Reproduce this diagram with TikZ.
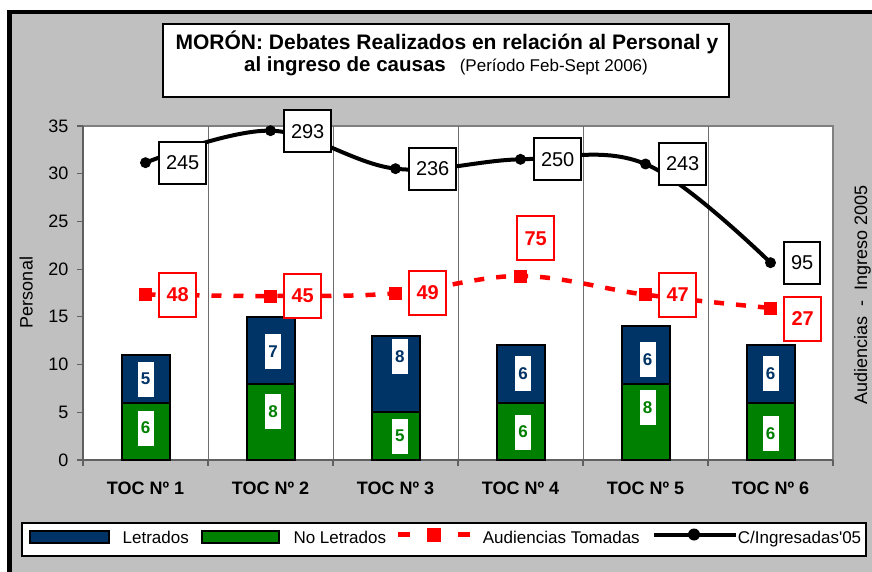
\documentclass[tikz,border=0pt]{standalone}
\usepackage{fontspec}
\setmainfont{Liberation Sans}
\newfontfamily\arialnl{Liberation Sans}
\definecolor{silverbg}{RGB}{192,192,192}
\definecolor{navyfill}{RGB}{0,51,102}
\definecolor{greenfill}{RGB}{0,128,0}
\definecolor{navytext}{RGB}{0,51,102}
\definecolor{greentext}{RGB}{0,128,0}
\definecolor{axgray}{RGB}{128,128,128}
\definecolor{axdark}{RGB}{96,96,96}
\definecolor{gridgray}{RGB}{110,110,110}
\definecolor{redline}{RGB}{255,0,0}
\tikzset{
  greenbar/.style={fill=greenfill, draw=black, line width=2pt},
  navybar/.style={fill=navyfill, draw=black, line width=2pt},
  inbox/.style={fill=white, inner sep=0pt, minimum width=16pt, minimum height=35pt,
    font=\fontsize{17}{19}\selectfont\bfseries},
  blkbox/.style={draw=black, line width=2pt, fill=white, inner xsep=7pt, inner ysep=0pt,
    minimum height=42pt, font=\fontsize{20}{22}\selectfont, anchor=west},
  redbox/.style={draw=redline, line width=2pt, fill=white, inner xsep=7.5pt, inner ysep=0pt,
    minimum height=44pt, font=\fontsize{20}{22}\selectfont\bfseries, text=redline, anchor=west},
  axlbl/.style={font=\fontsize{18}{20}\selectfont, inner sep=0pt},
  catlbl/.style={font=\fontsize{18}{20}\selectfont\bfseries, inner sep=0pt, anchor=base},
  leglbl/.style={font=\fontsize{17}{19}\selectfont, inner sep=0pt, anchor=base west},
  redmark/.style={rectangle, fill=redline, inner sep=0pt, minimum size=13pt},
  blkmark/.style={circle, fill=black, inner sep=0pt, minimum size=11pt},
}
\begin{document}
\begin{tikzpicture}[x=1pt,y=-1pt]
\useasboundingbox (0,0) rectangle (872,572);
\fill[white] (0,0) rectangle (872,572);
\begin{scope}
  \clip (0,0) rectangle (872,572);
  \filldraw[fill=silverbg, draw=black, line width=4.5pt] (9.5,12) rectangle (885,585);
\end{scope}

% title
\node[draw=black, line width=2pt, fill=white, minimum width=566pt, minimum height=73pt, inner sep=0pt] (titlebox) at (446,60.5) {};
\node[font=\fontsize{21}{24}\selectfont\bfseries, anchor=base, inner sep=0pt] (t1) at (447,50) {MORÓN: Debates Realizados en relación al Personal y};
\node[anchor=base, inner sep=0pt] (t2) at (446,72) {{\fontsize{20.5}{24}\selectfont\bfseries al ingreso de causas}\hspace{14pt}{\fontsize{17}{21}\selectfont(Período Feb-Sept 2006)}};

% plot area
\draw[axgray, line width=1.5pt, fill=white] (83,126) rectangle (833,460);
\foreach \i in {1,...,5}
  \draw[gridgray, line width=1pt] ({83+125*\i},126) -- ({83+125*\i},460);
\draw[axdark, line width=1.5pt] (83,126) -- (83,460);
\draw[axdark, line width=2pt] (83,460) -- (833,460);
\foreach \v in {0,5,...,35} {
  \draw[axdark, line width=1.2pt] (77,{460-\v*9.542857}) -- (83,{460-\v*9.542857});
  \node[axlbl, anchor=east] (yl\v) at (68.5,{460-\v*9.542857}) {\v};
}
\foreach \i in {0,...,6}
  \draw[axdark, line width=1.2pt] ({83+125*\i},460) -- ({83+125*\i},466);

% bars
\foreach \i/\g/\b/\gy/\by/\dx in {1/6/5/428/379/0, 2/8/7/411.5/351.5/2.7, 3/5/8/436/356.5/4.3, 4/6/6/432/373.3/2.7, 5/8/6/407.5/359.3/2, 6/6/6/433.8/373.3/0} {
  \pgfmathsetmacro\cx{145.5+125*(\i-1)}
  \pgfmathsetmacro\gt{460-\g*9.542857}
  \pgfmathsetmacro\bt{460-(\g+\b)*9.542857}
  \filldraw[greenbar] ({\cx-24},460) rectangle ({\cx+24},\gt);
  \filldraw[navybar] ({\cx-24},\gt) rectangle ({\cx+24},\bt);
  \node[inbox, text=navytext] (bl\i) at ({\cx+\dx},\by) {\b};
  \node[inbox, text=greentext] (gl\i) at ({\cx+\dx},\gy) {\g};
  \node[catlbl] (cat\i) at (\cx,494) {TOC Nº \i};
}

% line points
\coordinate (b1) at (145.5,162.67);
\coordinate (b2) at (270.5,130.67);
\coordinate (b3) at (395.5,168.67);
\coordinate (b4) at (520.5,159.33);
\coordinate (b5) at (645.5,164);
\coordinate (b6) at (770.5,262.67);
\coordinate (r1) at (145.5,294.5);
\coordinate (r2) at (270.5,296);
\coordinate (r3) at (395.5,293.33);
\coordinate (r4) at (520.5,276);
\coordinate (r5) at (645.5,294.67);
\coordinate (r6) at (770.5,308);

\draw[redline, line width=4.5pt, dash pattern=on 10pt off 12pt] plot[smooth, tension=0.6] coordinates {(r1) (r2) (r3) (r4) (r5) (r6)};
\draw[black, line width=4pt] plot[smooth, tension=0.6] coordinates {(b1) (b2) (b3) (b4) (b5) (b6)};
\foreach \k in {1,...,6} {
  \node[redmark] (rm\k) at (r\k) {};
  \node[blkmark] (bm\k) at (b\k) {};
}

% value labels
\node[blkbox] (lb1) at (158,163) {245};
\node[blkbox] (lb2) at (283,131.5) {293};
\node[blkbox] (lb3) at (408,169) {236};
\node[blkbox] (lb4) at (533,159.5) {250};
\node[blkbox] (lb5) at (658,164) {243};
\node[blkbox] (lb6) at (783,263) {95};
\node[redbox] (lr1) at (158,294.5) {48};
\node[redbox] (lr2) at (283,296) {45};
\node[redbox] (lr3) at (408,293) {49};
\node[redbox] (lr4) at (516,238.3) {75};
\node[redbox] (lr5) at (658,294.7) {47};
\node[redbox] (lr6) at (783,318.5) {27};

% axis titles
\node[axlbl, rotate=90, anchor=base] (ylab) at (32.5,292.5) {Personal};
\node[axlbl, rotate=90, anchor=base] (y2lab) at (867,295) {Audiencias\ \ -\ \ Ingreso 2005};

% legend
\node[draw=black, line width=2pt, fill=white, minimum width=844pt, minimum height=33pt, inner sep=0pt] (legend) at (444,539.5) {};
\filldraw[navyfill, draw=black, line width=1.5pt] (30,531) rectangle (109,543);
\node[leglbl] (lg1) at (122.5,543.3) {Letrados};
\filldraw[greenfill, draw=black, line width=1.5pt] (202,531) rectangle (279,543);
\node[leglbl] (lg2) at (293.3,543.3) {No Letrados};
\coordinate (la) at (398,534.5);
\coordinate (lb) at (410,534.5);
\coordinate (lc) at (458,534.5);
\coordinate (ld) at (470,534.5);
\draw[redline, line width=4.5pt] (la) -- (lb);
\draw[redline, line width=4.5pt] (lc) -- (ld);
\node[redmark, minimum size=14pt] (lgm1) at (434,534.5) {};
\node[leglbl] (lg3) at (482.7,543.3) {Audiencias Tomadas};
\coordinate (le) at (654,534.5);
\coordinate (lf) at (736,534.5);
\draw[black, line width=4pt] (le) -- (lf);
\node[blkmark, minimum size=12pt] (lgm2) at (694,534.5) {};
\node[leglbl] (lg4) at (737.7,543.3) {\arialnl C/Ingresadas'05};
\end{tikzpicture}
\end{document}
